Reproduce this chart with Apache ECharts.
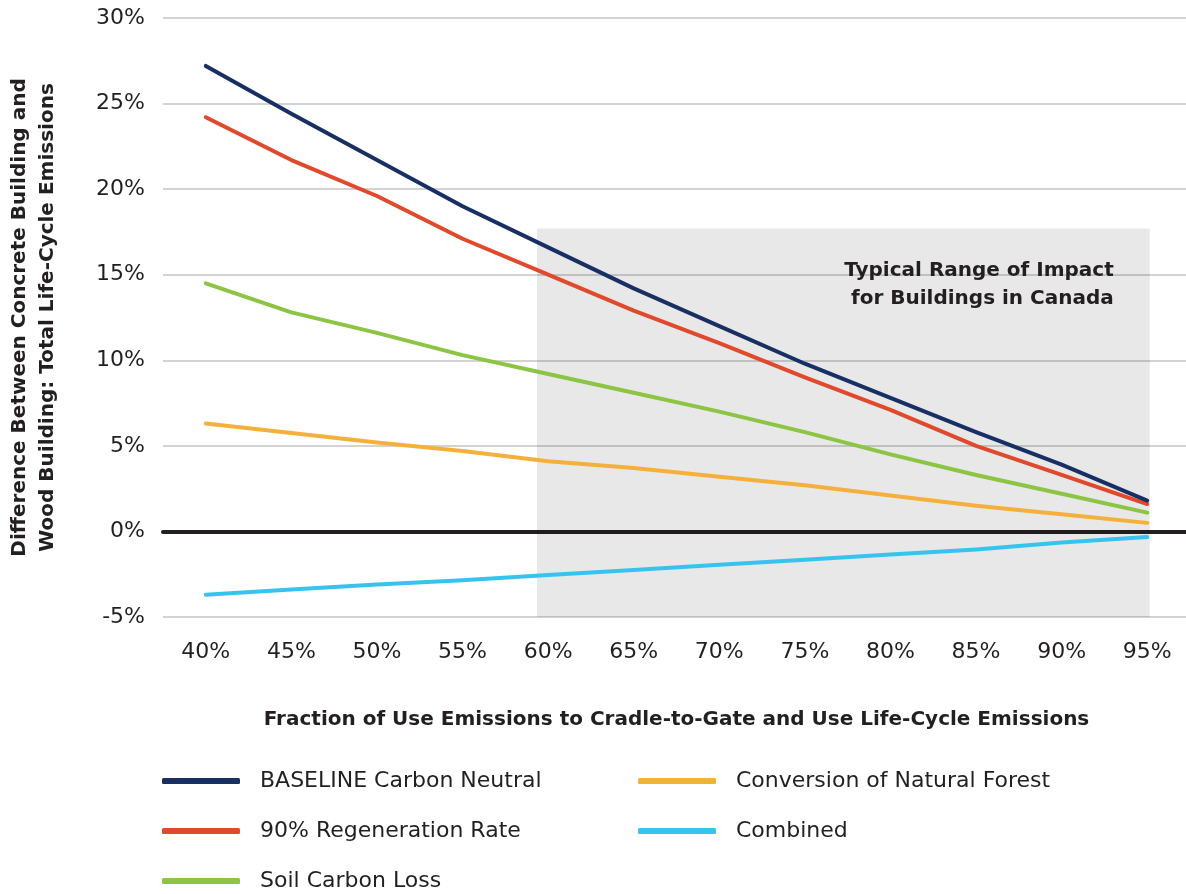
<!DOCTYPE html>
<html>
<head>
<meta charset="utf-8">
<script src="https://cdn.jsdelivr.net/npm/echarts@6/dist/echarts.min.js"></script>
<style>
html,body{margin:0;padding:0;background:#fff;}
#chart{width:1186px;height:894px;}
</style>
</head>
<body>
<div id="chart"></div>
<script>
const categories = ['40%','45%','50%','55%','60%','65%','70%','75%','80%','85%','90%','95%'];
const yTicks = [-5, 0, 5, 10, 15, 20, 25, 30];
const baseline = [27.2, 24.4, 21.7, 19.0, 16.6, 14.2, 12.0, 9.8, 7.8, 5.8, 3.9, 1.8];
const regen = [24.2, 21.7, 19.6, 17.1, 15.0, 12.9, 11.0, 9.0, 7.1, 5.0, 3.3, 1.6];
const soil = [14.5, 12.8, 11.6, 10.3, 9.2, 8.1, 7.0, 5.8, 4.5, 3.3, 2.2, 1.1];
const forest = [6.3, 5.75, 5.2, 4.7, 4.1, 3.7, 3.2, 2.7, 2.1, 1.5, 1.0, 0.5];
const combined = [-3.7, -3.4, -3.1, -2.85, -2.55, -2.25, -1.95, -1.65, -1.35, -1.05, -0.65, -0.33];
const seriesNames = ['BASELINE Carbon Neutral', '90% Regeneration Rate', 'Soil Carbon Loss', 'Conversion of Natural Forest', 'Combined'];
const typicalRange = { from: 59.35, to: 95.15, top: 17.7, bottom: -5 };
const typicalLabel = 'Typical Range of Impact\nfor Buildings in Canada';

const colors = {
  baseline: '#172f63',
  regen: '#e0492c',
  soil: '#8cc443',
  forest: '#f4b03b',
  combined: '#36c3ee'
};
const FONT = '"DejaVu Sans", sans-serif';
const TXT = '#231f20';

const chart = echarts.init(document.getElementById('chart'));

function lineSeries(name, data, color) {
  return {
    name: name, type: 'line', data: data,
    xAxisIndex: 0, yAxisIndex: 0,
    symbol: 'none', smooth: false,
    lineStyle: { color: color, width: 4, cap: 'round', join: 'round' },
    itemStyle: { color: color },
    z: 5
  };
}

function legendBlock(names, left) {
  return {
    data: names, orient: 'vertical', left: left, top: 770, padding: 0,
    itemWidth: 78, itemHeight: 6, icon: 'roundRect', itemGap: 28,
    textStyle: { fontFamily: FONT, fontSize: 22, color: TXT, lineHeight: 22, padding: [0, 0, 0, 15] }
  };
}

const option = {
  backgroundColor: '#fff',
  animation: false,
  textStyle: { fontFamily: FONT },
  grid: { left: 163, right: -4, top: 18, bottom: 277, containLabel: false, outerBoundsMode: 'none' },
  xAxis: [
    {
      type: 'category', data: categories, boundaryGap: true,
      name: 'Fraction of Use Emissions to Cradle-to-Gate and Use Life-Cycle Emissions',
      nameLocation: 'middle', nameGap: 93,
      nameTextStyle: { fontFamily: FONT, fontWeight: 'bold', fontSize: 20, color: TXT },
      axisLine: { show: true, onZero: true, lineStyle: { color: TXT, width: 4 } },
      axisTick: { show: false },
      axisLabel: { fontFamily: FONT, fontSize: 22, color: TXT, margin: 24 },
      splitLine: { show: false }
    },
    {
      type: 'value', min: 37.5, max: 97.5, show: false,
      splitLine: { show: false }
    }
  ],
  yAxis: {
    type: 'value', min: yTicks[0], max: yTicks[yTicks.length - 1], interval: 5,
    name: 'Difference Between Concrete Building and\nWood Building: Total Life-Cycle Emissions',
    nameLocation: 'middle', nameRotate: 90, nameGap: 101,
    nameTextStyle: { fontFamily: FONT, fontWeight: 'bold', fontSize: 20, color: TXT, lineHeight: 28 },
    axisLine: { show: false }, axisTick: { show: false },
    axisLabel: { fontFamily: FONT, fontSize: 22, color: TXT, margin: 18, formatter: '{value}%' },
    splitLine: { show: true, lineStyle: { color: '#d3d3d3', width: 2 } }
  },
  legend: [
    legendBlock(seriesNames.slice(0, 3), 162),
    legendBlock(seriesNames.slice(3), 638)
  ],
  series: [
    {
      name: 'range', type: 'line', xAxisIndex: 1, yAxisIndex: 0, data: [],
      silent: true, z: 1,
      markArea: {
        silent: true,
        itemStyle: { color: 'rgba(0,0,0,0.09)' },
        label: {
          show: true, position: 'insideTopRight', distance: 0,
          padding: [28, 36, 0, 0],
          formatter: typicalLabel, align: 'right',
          fontFamily: FONT, fontWeight: 'bold', fontSize: 20, lineHeight: 28, color: TXT
        },
        data: [[{ xAxis: typicalRange.from, yAxis: typicalRange.top }, { xAxis: typicalRange.to, yAxis: typicalRange.bottom }]]
      }
    },
    lineSeries(seriesNames[4], combined, colors.combined),
    lineSeries(seriesNames[3], forest, colors.forest),
    lineSeries(seriesNames[2], soil, colors.soil),
    lineSeries(seriesNames[1], regen, colors.regen),
    lineSeries(seriesNames[0], baseline, colors.baseline)
  ]
};
chart.setOption(option);
</script>
</body>
</html>
